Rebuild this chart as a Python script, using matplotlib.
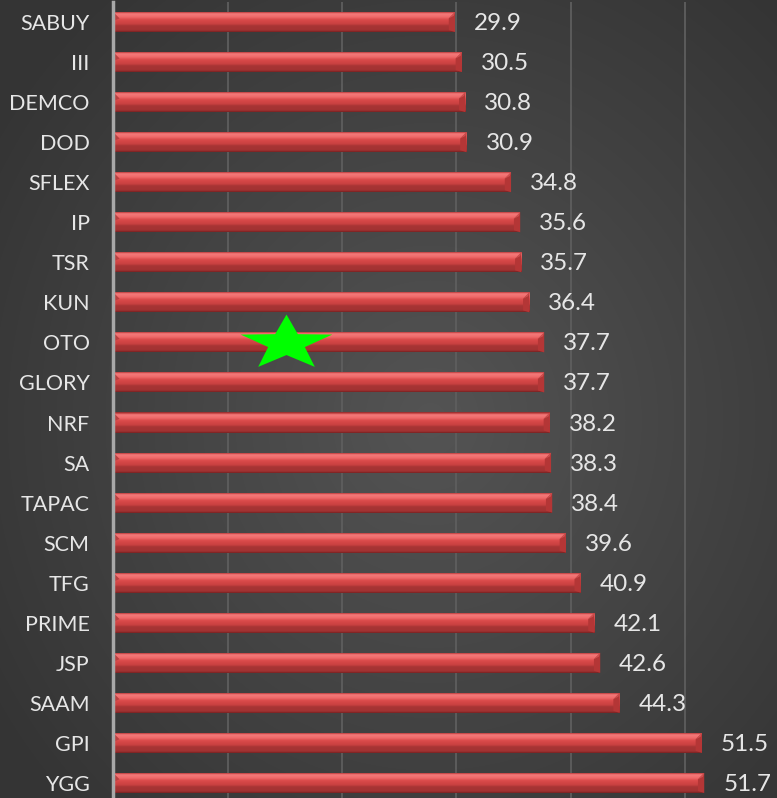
import numpy as np
import matplotlib
matplotlib.use("Agg")
import matplotlib.pyplot as plt
from matplotlib.patches import Polygon
from matplotlib.path import Path
from matplotlib.colors import LinearSegmentedColormap
import matplotlib.transforms as mtransforms

categories = ["SABUY", "III", "DEMCO", "DOD", "SFLEX", "IP", "TSR", "KUN", "OTO", "GLORY",
              "NRF", "SA", "TAPAC", "SCM", "TFG", "PRIME", "JSP", "SAAM", "GPI", "YGG"]
values = [29.9, 30.5, 30.8, 30.9, 34.8, 35.6, 35.7, 36.4, 37.7, 37.7,
          38.2, 38.3, 38.4, 39.6, 40.9, 42.1, 42.6, 44.3, 51.5, 51.7]
star_category = "OTO"
star_x = 15.1

W, H = 777, 798
fig = plt.figure(figsize=(W / 100, H / 100), dpi=100)

# background radial gradient
bg = fig.add_axes([0, 0, 1, 1], zorder=0)
yy, xx = np.mgrid[0:H, 0:W]
r = np.sqrt(((xx - 430) / 520.0) ** 2 + ((yy - 420) / 560.0) ** 2)
r = np.clip(r, 0, 1)
c_in = np.array([0x54, 0x54, 0x54]) / 255
c_out = np.array([0x34, 0x34, 0x34]) / 255
img = c_in[None, None, :] * (1 - r[..., None]) + c_out[None, None, :] * r[..., None]
bg.imshow(img, extent=(0, 1, 0, 1), aspect="auto")
bg.axis("off")

left = 113.3 / W
top = 2 / H
ax = fig.add_axes([left, 0, 1 - left, 1 - top], zorder=1)
ax.patch.set_alpha(0)

n = len(categories)
ypos = np.arange(n)
ax.set_xlim(0, (W - 113.3) / 11.43)
ax.set_ylim((H - 22) / 40.05, -0.5)

ax.set_xticks(np.arange(10, 60, 10))
ax.xaxis.grid(True, color="#5e5e5e", linewidth=1.3)
ax.set_axisbelow(True)
ax.tick_params(axis="x", length=0, labelbottom=False)
ax.tick_params(axis="y", length=0, pad=17, labelsize=15.5, labelcolor="#e6e6e6")
for s in ["top", "right", "bottom"]:
    ax.spines[s].set_visible(False)
ax.spines["left"].set_color("#a8a8a8")
ax.spines["left"].set_linewidth(2.5)
ax.spines["left"].set_zorder(5)

ax.set_yticks(ypos)
ax.set_yticklabels(categories, family=["Lato", "DejaVu Sans"])

bh = 0.5
grad = LinearSegmentedColormap.from_list("bar", [
    (0.0, "#8e2a2a"), (0.06, "#c84545"), (0.12, "#f47a7a"), (0.28, "#ef6a6a"),
    (0.40, "#db4b4b"), (0.62, "#c84040"), (0.70, "#a83535"), (0.92, "#a23232"),
    (1.0, "#7a2222")])
gimg = np.linspace(0, 1, 64)[:, None]

off = mtransforms.ScaledTranslation(19 / 100, -1.5 / 100, fig.dpi_scale_trans)
bars = ax.barh(ypos, values, height=bh, color="#d04444", linewidth=0, zorder=2)
for b, v, yc in zip(bars, values, ypos):
    im = ax.imshow(gimg, cmap=grad, extent=(0, v, yc + bh / 2, yc - bh / 2),
                   aspect="auto", zorder=3, interpolation="bilinear")
    im.set_clip_path(b)
    t, bt = yc - bh / 2, yc + bh / 2
    dx = 0.55
    dy = 0.16
    # right bevel facet
    ax.add_patch(Polygon([(v - dx, t + dy), (v, t), (v, bt), (v - dx, bt - 0.05)],
                         closed=True, facecolor="#b43636", edgecolor="none", zorder=4))
    ax.add_patch(Polygon([(v - dx, t + dy), (v, t), (v - dx * 0.2, t + dy * 0.6)],
                         closed=True, facecolor="#cf5050", edgecolor="none", zorder=4))
    # left bevel facet
    ax.add_patch(Polygon([(0, t), (dx * 1.0, t + dy), (0, t + dy * 1.4)],
                         closed=True, facecolor="#b84040", edgecolor="none", zorder=4))
    ax.text(v, yc, f"{v:.1f}", va="center", ha="left", color="#e6e6e6",
            fontsize=17.5, family=["Lato", "DejaVu Sans"],
            transform=ax.transData + off, zorder=6)

# star marker (flattened five-point star)
star = Path.unit_regular_star(5, 0.40)
verts = star.vertices.copy()
verts[:, 1] *= 0.6
star_path = Path(verts, star.codes)
ax.plot([star_x], [categories.index(star_category) + 0.02], marker=star_path,
        markersize=66, color="#00ff00", markeredgewidth=0, linestyle="none",
        zorder=7, clip_on=False)

fig.savefig("out.png", dpi=100)
